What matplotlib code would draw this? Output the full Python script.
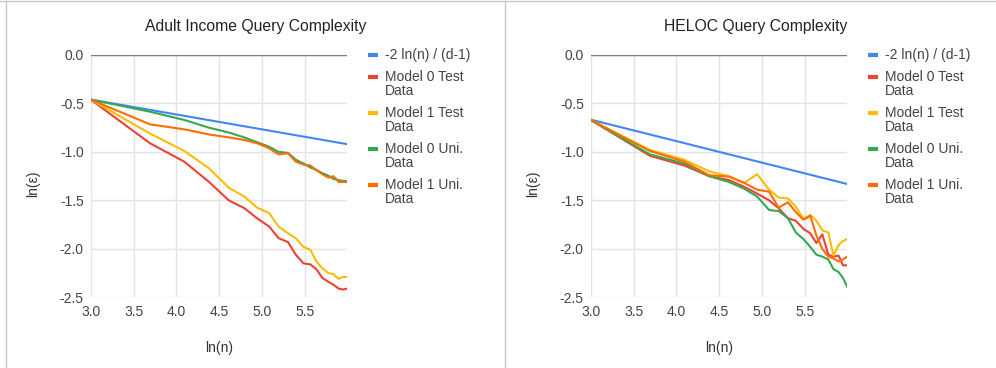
import matplotlib
matplotlib.use("Agg")
import matplotlib.pyplot as plt
from matplotlib.lines import Line2D

plt.rcParams['font.family'] = ['Liberation Sans', 'DejaVu Sans']

# x = ln(n), n = 20, 40, ..., 400
ln_n = [3.00, 3.69, 4.09, 4.38, 4.61, 4.79, 4.94, 5.08, 5.19, 5.30,
        5.39, 5.48, 5.56, 5.63, 5.70, 5.77, 5.83, 5.89, 5.94, 5.99]

# bound line -2 ln(n) / (d-1), endpoints
bound_x = [3.00, 5.99]
adult_bound = [-0.46, -0.92]
heloc_bound = [-0.667, -1.331]

adult_m0_test = [-0.46, -0.91, -1.10, -1.31, -1.50, -1.58, -1.685, -1.77, -1.89, -1.93,
                 -2.06, -2.15, -2.16, -2.21, -2.30, -2.34, -2.37, -2.41, -2.42, -2.41]
adult_m1_test = [-0.46, -0.81, -0.99, -1.17, -1.37, -1.46, -1.575, -1.63, -1.77, -1.84,
                 -1.89, -1.98, -2.01, -2.13, -2.20, -2.25, -2.26, -2.31, -2.29, -2.29]
adult_m0_uni = [-0.46, -0.585, -0.67, -0.75, -0.80, -0.85, -0.90, -0.946, -1.00, -1.01,
                -1.08, -1.12, -1.16, -1.186, -1.22, -1.245, -1.28, -1.29, -1.30, -1.30]
adult_m1_uni = [-0.46, -0.715, -0.767, -0.82, -0.85, -0.877, -0.91, -0.963, -1.025, -1.014,
                -1.10, -1.13, -1.14, -1.186, -1.23, -1.265, -1.25, -1.31, -1.31, -1.31]

heloc_m0_test = [-0.67, -1.04, -1.14, -1.25, -1.29, -1.36, -1.43, -1.50, -1.58, -1.685,
                 -1.71, -1.795, -1.84, -1.94, -1.85, -2.06, -2.08, -2.07, -2.17, -2.17]
heloc_m1_test = [-0.67, -0.98, -1.08, -1.20, -1.25, -1.32, -1.23, -1.39, -1.47, -1.48,
                 -1.565, -1.69, -1.65, -1.71, -1.81, -1.83, -2.07, -1.96, -1.92, -1.90]
heloc_m0_uni = [-0.67, -1.025, -1.12, -1.25, -1.31, -1.38, -1.46, -1.60, -1.61, -1.685,
                -1.83, -1.90, -1.98, -2.06, -2.08, -2.11, -2.21, -2.24, -2.30, -2.39]
heloc_m1_uni = [-0.67, -0.99, -1.10, -1.24, -1.255, -1.32, -1.39, -1.41, -1.575, -1.52,
                -1.62, -1.70, -1.66, -1.86, -2.00, -2.08, -2.10, -2.13, -2.11, -2.08]

labels = ["-2 ln(n) / (d-1)", "Model 0 Test\nData", "Model 1 Test\nData",
          "Model 0 Uni.\nData", "Model 1 Uni.\nData"]
colori = ["#4285F4", "#EA4335", "#FBBC04", "#34A853", "#FF6D01"]

x_ticks = [3.0, 3.5, 4.0, 4.5, 5.0, 5.5]
y_ticks = [0.0, -0.5, -1.0, -1.5, -2.0, -2.5]

W, H = 996, 368


def fx(px):
    return px / W


def fy(py):
    return 1 - py / H


def disegna(fig, x0, titolo, bound, serie):
    # area del grafico in pixel: x0 .. x0+256, y 55 .. 297
    ax = fig.add_axes([fx(x0), fy(297.3), fx(256.5), 242.3 / H])
    ax.plot(bound_x, bound, c=colori[0], lw=1.5)
    for s, c in zip(serie, colori[1:]):
        ax.plot(ln_n, s, c=c, lw=1.5)

    ax.set_xlim(3.0, 5.99)
    ax.set_ylim(-2.5, 0.0)
    ax.set_xticks(x_ticks)
    ax.set_xticklabels(["%.1f" % t for t in x_ticks])
    ax.set_yticks(y_ticks)
    ax.set_yticklabels(["%.1f" % t for t in y_ticks])
    ax.tick_params(length=0, labelsize=10, colors="#444444")
    ax.tick_params(axis="y", pad=5)
    ax.tick_params(axis="x", pad=5.5)
    ax.grid(True, color="#e3e3e3", lw=1)
    ax.set_axisbelow(True)
    for sp in ax.spines.values():
        sp.set_visible(False)
    ax.axhline(0.0, color="#7a7a7a", lw=1, zorder=1)

    # titolo e etichette assi
    fig.text(fx(x0 + 165), fy(27), titolo, ha="center", va="center",
             fontsize=11.3, color="#222222")
    fig.text(fx(x0 + 128), fy(348), "ln(n)", ha="center", va="center",
             fontsize=10, color="#333333")
    fig.text(fx(x0 - 58), fy(184), "ln(\u03b5)", ha="center", va="center",
             rotation=90, fontsize=10, color="#333333")

    # legenda fatta a mano (marker allineato con la prima riga)
    lx = x0 + 277
    ly = [55, 77, 113, 149, 185]
    for lab, c, y in zip(labels, colori, ly):
        fig.add_artist(Line2D([fx(lx), fx(lx + 10)], [fy(y), fy(y)],
                              color=c, lw=3, solid_capstyle="butt"))
        for k, riga in enumerate(lab.split("\n")):
            fig.text(fx(lx + 17), fy(y + 14.3 * k), riga, ha="left", va="center",
                     fontsize=10, color="#444444")
    return ax


fig = plt.figure(figsize=(W / 100, H / 100), dpi=100)

disegna(fig, 90.7, "Adult Income Query Complexity", adult_bound,
        [adult_m0_test, adult_m1_test, adult_m0_uni, adult_m1_uni])
disegna(fig, 590.7, "HELOC Query Complexity", heloc_bound,
        [heloc_m0_test, heloc_m1_test, heloc_m0_uni, heloc_m1_uni])

# bordi dei due riquadri
bordo = "#c8c8c8"
fig.add_artist(Line2D([0, 1], [fy(0.8), fy(0.8)], color=bordo, lw=1))
fig.add_artist(Line2D([fx(6), fx(6)], [0, fy(0.8)], color=bordo, lw=1))
fig.add_artist(Line2D([fx(505.3), fx(505.3)], [0, fy(0.8)], color=bordo, lw=1))

fig.savefig("out.png", dpi=100)
